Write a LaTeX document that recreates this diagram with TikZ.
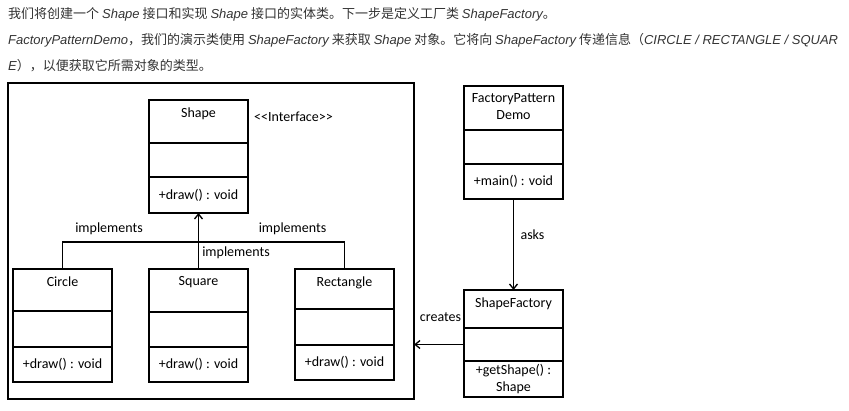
\documentclass[tikz,border=0pt]{standalone}
\usepackage{fontspec}
\setmainfont{Carlito}
\newfontfamily\cjk{Noto Sans CJK SC}
\newfontfamily\latin{Liberation Sans}
\usetikzlibrary{arrows.meta, positioning}
\newcommand{\en}[1]{{\latin\itshape #1}}

\begin{document}
\begin{tikzpicture}[x=1pt, y=-1pt,
    cls/.style={draw, line width=1.3pt, minimum width=99pt, inner sep=0pt, outer sep=0pt, font=\fontsize{14}{17}\selectfont, align=center},
    ttl/.style={label={[font=\fontsize{14}{17}\selectfont, anchor=north, yshift=-4pt, align=center]north:#1}},
    lbl/.style={font=\fontsize{14}{17}\selectfont},
    intro/.style={font=\cjk\fontsize{13}{15}\selectfont, text=black!80, anchor=west, inner sep=0pt},
    arrow/.style={-{Straight Barb[length=5pt, width=8pt]}, line width=1.3pt},
    link/.style={line width=1.3pt}
]
    \useasboundingbox (0,0) rectangle (849,411);

    % 说明文字
    \node[intro] (t1) at (8,14) {我们将创建一个 \en{Shape} 接口和实现 \en{Shape} 接口的实体类。下一步是定义工厂类 \en{ShapeFactory}。};
    \node[intro] (t2) at (8,40) {\en{FactoryPatternDemo}，我们的演示类使用 \en{ShapeFactory} 来获取 \en{Shape} 对象。它将向 \en{ShapeFactory} 传递信息（\en{CIRCLE / RECTANGLE / SQUAR}};
    \node[intro] (t3) at (8,66) {\en{E}），以便获取它所需对象的类型。};

    % 外框
    \node[draw, line width=1.3pt, minimum width=406pt, minimum height=316pt, inner sep=0pt, outer sep=0pt, anchor=north west] (frame) at (8,83) {};

    % 接口
    \node[cls, ttl=Shape, minimum height=43pt, anchor=north] (shapeT) at (198.5,100) {};
    \node[cls, minimum height=34pt, below=0pt of shapeT] (shapeA) {};
    \node[cls, minimum height=36pt, below=0pt of shapeA] (shapeM) {+draw() : void};
    \node[lbl] (iface) at (293.5,117) {<\kern0pt<Interface>\kern0pt>};

    % 实体类
    \node[cls, ttl=Circle, minimum height=42pt, anchor=north] (circleT) at (62.5,269) {};
    \node[cls, minimum height=36pt, below=0pt of circleT] (circleA) {};
    \node[cls, minimum height=35pt, below=0pt of circleA] (circleM) {+draw() : void};

    \node[cls, ttl=Square, minimum height=43pt, anchor=north] (squareT) at (198.5,269) {};
    \node[cls, minimum height=35pt, below=0pt of squareT] (squareA) {};
    \node[cls, minimum height=35pt, below=0pt of squareA] (squareM) {+draw() : void};

    \node[cls, ttl=Rectangle, minimum height=40pt, anchor=north] (rectT) at (344.5,269) {};
    \node[cls, minimum height=36pt, below=0pt of rectT] (rectA) {};
    \node[cls, minimum height=35pt, below=0pt of rectA] (rectM) {+draw() : void};

    % 演示类与工厂类
    \node[cls, ttl={FactoryPattern\\Demo}, minimum height=44pt, anchor=north] (demoT) at (513.5,86) {};
    \node[cls, minimum height=34pt, below=0pt of demoT] (demoA) {};
    \node[cls, minimum height=35pt, below=0pt of demoA] (demoM) {+main() : void};

    \node[cls, ttl=ShapeFactory, minimum height=38pt, anchor=north] (factoryT) at (513.5,290) {};
    \node[cls, minimum height=33pt, below=0pt of factoryT] (factoryA) {};
    \node[cls, minimum height=36pt, below=0pt of factoryA] (factoryM) {+getShape() :\\Shape};

    % 连线
    \coordinate (bus) at (198.5,242);
    \draw[link] (circleT.north) |- (bus) -| (rectT.north);
    \draw[arrow] (squareT.north) -- (shapeM.south);
    \draw[arrow] (demoM.south) -- (factoryT.north);
    \draw[arrow] (factoryA.west) -- (factoryA.west -| frame.east);

    \node[lbl] (implL) at (109,229) {implements};
    \node[lbl] (implR) at (292.5,229) {implements};
    \node[lbl] (implM) at (236,253) {implements};
    \node[lbl] (asks) at (532.5,235) {asks};
    \node[lbl] (creates) at (440.5,317) {creates};
\end{tikzpicture}
\end{document}
